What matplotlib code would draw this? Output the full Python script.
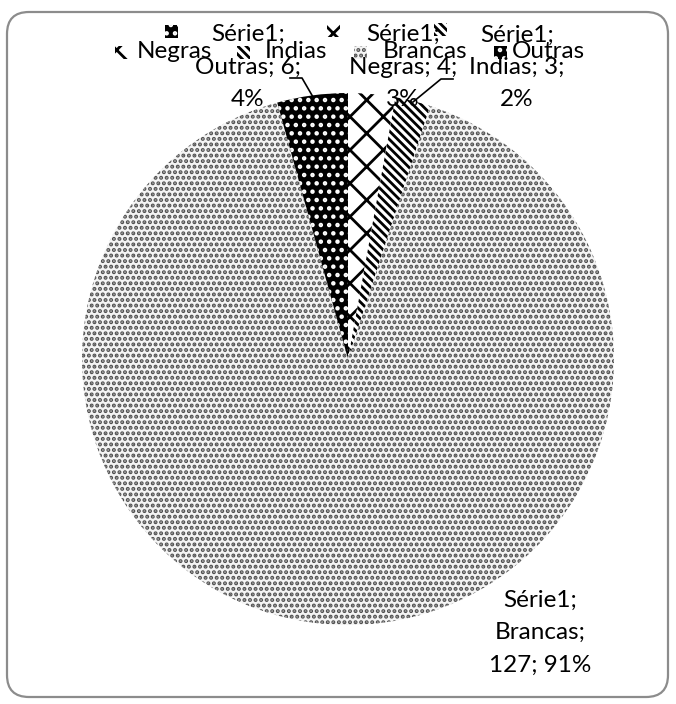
import matplotlib
matplotlib.use("Agg")
import matplotlib.pyplot as plt
from matplotlib.patches import FancyBboxPatch, Rectangle

categories = ["Negras", "Indias", "Brancas", "Outras"]
values = [4, 3, 127, 6]
percents = ["3%", "2%", "91%", "4%"]
series_name = "Série1"

W, H = 676, 704
plt.rcParams['font.family'] = ['Lato', 'DejaVu Sans']
plt.rcParams['hatch.linewidth'] = 2.0

fig = plt.figure(figsize=(W / 100, H / 100), dpi=100)
ax = fig.add_axes([0, 0, 1, 1])

def Y(y):
    return H - y

styles = {
    "Negras": dict(facecolor="white", edgecolor="black", hatch="x"),
    "Indias": dict(facecolor="white", edgecolor="black", hatch="\\\\\\\\"),
    "Brancas": dict(facecolor="#f4f4f4", edgecolor="#505050", hatch="..."),
    "Outras": dict(facecolor="black", edgecolor="white", hatch=".."),
}

wedges, _ = ax.pie(values, startangle=90, counterclock=False,
                   center=(348, Y(359)), radius=266,
                   wedgeprops=dict(linewidth=0))
for w, c in zip(wedges, categories):
    st = styles[c]
    w.set_facecolor(st["facecolor"])
    w.set_edgecolor(st["edgecolor"])
    w.set_hatch(st["hatch"])
    w.set_linewidth(0)

ax.set_xlim(0, W)
ax.set_ylim(0, H)
ax.set_aspect('equal')
ax.axis('off')

# frame
frame = FancyBboxPatch((7, Y(697)), 661, 685,
                       boxstyle="round,pad=0,rounding_size=22",
                       ec="#8c8c8c", fc="none", lw=1.6)
ax.add_patch(frame)

fs = 17.5

def key(cat, x, y, s=13):
    st = styles[cat]
    r = Rectangle((x - s / 2, Y(y) - s / 2), s, s, facecolor=st["facecolor"],
                  edgecolor=st["edgecolor"], hatch=st["hatch"], linewidth=0)
    ax.add_patch(r)

# legend row
legend_pos = {"Negras": (121, 137), "Indias": (243, 265),
              "Brancas": (360, 383), "Outras": (500, 512)}
for c in categories:
    kx, tx = legend_pos[c]
    key(c, kx, 52)
    ax.text(tx, Y(52), c, fontsize=fs, ha='left', va='center')

# data labels
idx = {c: i for i, c in enumerate(categories)}
label_pos = {"Outras": (248, [34, 67, 100], (171, 31)),
             "Negras": (403, [34, 67, 99], (333, 30)),
             "Indias": (517, [35, 67, 100], (440, 29))}
for c, (cx, ys, kp) in label_pos.items():
    i = idx[c]
    lines = [f"{series_name};", f"{c}; {values[i]};", percents[i]]
    for ln, yy in zip(lines, ys):
        ax.text(cx, Y(yy), ln, fontsize=fs, ha='center', va='center')
    key(c, kp[0], kp[1])

i = idx["Brancas"]
for ln, yy in zip([f"{series_name};", "Brancas;", f"{values[i]}; {percents[i]}"],
                  [600, 632, 665]):
    ax.text(540, Y(yy), ln, fontsize=fs, ha='center', va='center')

# leader lines
ax.plot([290, 302, 313], [Y(78), Y(78), Y(97)], color='black', lw=1.2)
ax.plot([453, 441, 413], [Y(79), Y(79), Y(102)], color='black', lw=1.2)

fig.savefig("out.png", dpi=100)
